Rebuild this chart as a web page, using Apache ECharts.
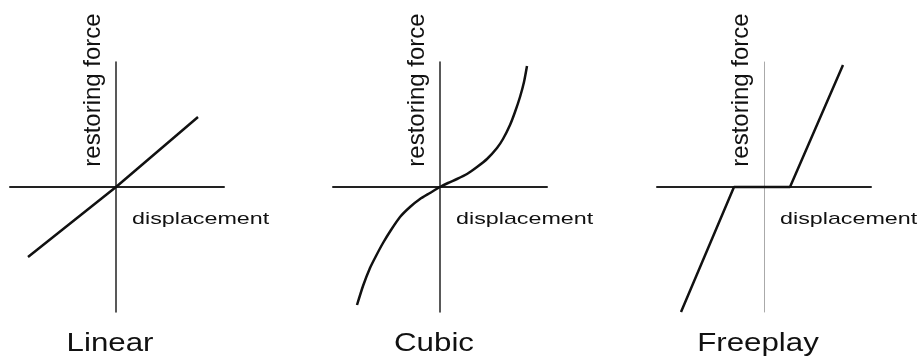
<!DOCTYPE html>
<html>
<head>
<meta charset="utf-8">
<script src="https://cdn.jsdelivr.net/npm/echarts@6/dist/echarts.min.js"></script>
<style>
  html, body { margin: 0; padding: 0; background: #fff; }
  #chart { width: 923px; height: 363px; }
</style>
</head>
<body>
<div id="chart"></div>
<script>
// Restoring force vs displacement for three stiffness models
const panelTitles = ['Linear', 'Cubic', 'Freeplay'];
const xAxisLabel = 'displacement';
const yAxisLabel = 'restoring force';

// Linear spring: straight line through the origin
const linearX = [-88, 0, 82];
const linearY = [-70, 0, 70];

// Cubic (hardening) spring
const cubicX = [-83, -77, -70, -64, -57, -49, -40, -30, -20, -10, 0, 8, 17, 27, 37, 47, 57, 63, 70, 75, 80, 84, 87];
const cubicY = [-118, -99, -81, -69, -56, -43, -30, -20, -12, -6, 0, 4, 8, 13, 20, 28, 39, 48, 62, 75, 90, 105, 121];

// Freeplay: dead zone around zero, linear outside
const freeplayX = [-83, -30, 26, 79];
const freeplayY = [-125, 0, 0, 122];

const toPairs = (xs, ys) => xs.map((x, i) => [x, ys[i]]);

const panels = [
  { left: 10,  x: [-106, 108], data: toPairs(linearX, linearY), smooth: false, vColor: '#222', vWidth: 1.5 },
  { left: 333, x: [-107, 107], data: toPairs(cubicX, cubicY), smooth: 0.2,  vColor: '#222', vWidth: 1.5 },
  { left: 657, x: [-107, 107], data: toPairs(freeplayX, freeplayY), smooth: false, vColor: '#aaa', vWidth: 1 }
];

const grids = [], xAxes = [], yAxes = [], series = [], graphics = [];
const font = '"Liberation Sans", Arial, Helvetica, sans-serif';

panels.forEach((p, i) => {
  const width = p.x[1] - p.x[0];
  grids.push({ left: p.left, top: 62, width: width, height: 250 });
  xAxes.push({
    type: 'value', gridIndex: i, min: p.x[0], max: p.x[1],
    axisLine: { onZero: true, lineStyle: { color: '#222', width: 2 } },
    axisTick: { show: false }, axisLabel: { show: false }, splitLine: { show: false }
  });
  yAxes.push({
    type: 'value', gridIndex: i, min: -125, max: 125,
    axisLine: { onZero: true, lineStyle: { color: p.vColor, width: p.vWidth } },
    axisTick: { show: false }, axisLabel: { show: false }, splitLine: { show: false }
  });
  series.push({
    type: 'line', xAxisIndex: i, yAxisIndex: i, data: p.data,
    smooth: p.smooth, symbol: 'none', silent: true, animation: false,
    lineStyle: { color: '#111', width: 2.5 }
  });

  const originX = p.left - p.x[0];
  // panel title
  graphics.push({
    type: 'text', x: originX - 6, y: 344, scaleX: 1.25,
    style: { text: panelTitles[i], font: '25px ' + font, fill: '#111',
             textAlign: 'center', textVerticalAlign: 'middle' }
  });
  // horizontal axis caption
  graphics.push({
    type: 'text', x: originX + 16, y: 219, scaleX: 1.37,
    style: { text: xAxisLabel, font: '17px ' + font, fill: '#111',
             textAlign: 'left', textVerticalAlign: 'middle' }
  });
  // vertical axis caption
  graphics.push({
    type: 'text', x: originX - 23, y: 90, rotation: Math.PI / 2,
    style: { text: yAxisLabel, font: '24px ' + font, fill: '#111',
             textAlign: 'center', textVerticalAlign: 'middle' }
  });
});

const chart = echarts.init(document.getElementById('chart'), null, { renderer: 'canvas' });
chart.setOption({
  backgroundColor: '#fff',
  animation: false,
  grid: grids,
  xAxis: xAxes,
  yAxis: yAxes,
  series: series,
  graphic: graphics
});
</script>
</body>
</html>
